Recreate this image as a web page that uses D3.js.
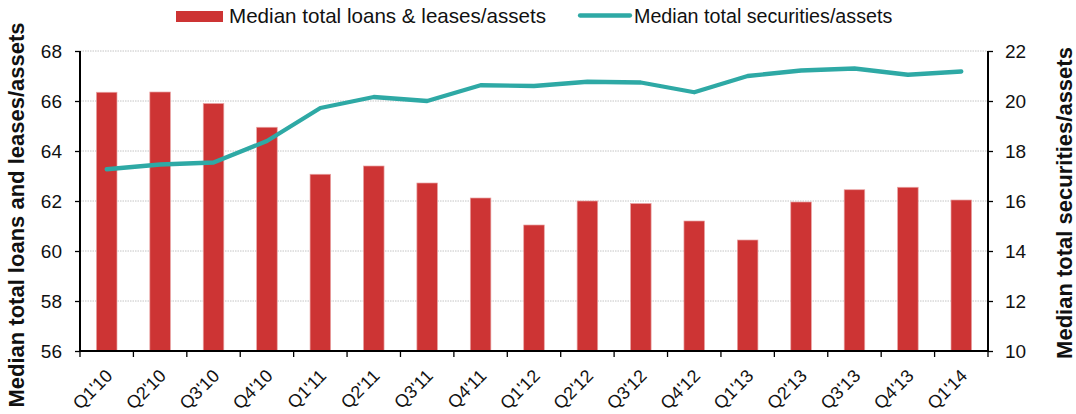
<!DOCTYPE html>
<html>
<head>
<meta charset="utf-8">
<script src="https://cdn.jsdelivr.net/npm/d3@7/dist/d3.min.js"></script>
<style>
  html, body { margin: 0; padding: 0; background: #fff; }
  svg { display: block; font-family: "Liberation Sans", Arial, Helvetica, sans-serif; }
</style>
</head>
<body>
<svg id="chart" width="1076" height="414"></svg>
<script>
const categories = ["Q1'10","Q2'10","Q3'10","Q4'10","Q1'11","Q2'11","Q3'11","Q4'11","Q1'12","Q2'12","Q3'12","Q4'12","Q1'13","Q2'13","Q3'13","Q4'13","Q1'14"];
const loansLeases = [66.35, 66.36, 65.9, 64.95, 63.07, 63.4, 62.72, 62.12, 61.04, 62.0, 61.9, 61.2, 60.44, 61.96, 62.45, 62.55, 62.04];
const securities = [17.27, 17.46, 17.54, 18.4, 19.72, 20.16, 20.0, 20.63, 20.6, 20.77, 20.74, 20.35, 21.0, 21.22, 21.3, 21.05, 21.18];
const leftTicks = [56, 58, 60, 62, 64, 66, 68];
const rightTicks = [10, 12, 14, 16, 18, 20, 22];
const seriesNames = ["Median total loans & leases/assets", "Median total securities/assets"];
const leftTitle = "Median total loans and leases/assets";
const rightTitle = "Median total securities/assets";

const barColor = "#CD3434";
const lineColor = "#2EA9A5";

const svg = d3.select("#chart");
const m = { left: 80, right: 988, top: 51, bottom: 351 };

const x = d3.scaleBand().domain(categories).range([m.left, m.right]).paddingInner(0).paddingOuter(0);
const yL = d3.scaleLinear().domain([56, 68]).range([m.bottom, m.top]);
const yR = d3.scaleLinear().domain([10, 22]).range([m.bottom, m.top]);

// gridlines
svg.append("g").selectAll("line").data(leftTicks.filter(d => d !== 56)).join("line")
  .attr("x1", m.left).attr("x2", m.right)
  .attr("y1", d => yL(d)).attr("y2", d => yL(d))
  .attr("stroke", "#c4c4c4").attr("stroke-width", 1).attr("stroke-dasharray", "1.5,1");

// bars
const bw = x.bandwidth() * 0.385;
svg.append("g").selectAll("rect").data(categories).join("rect")
  .attr("x", (d) => x(d) + x.bandwidth() / 2 - bw / 2)
  .attr("width", bw)
  .attr("y", (d, i) => yL(loansLeases[i]))
  .attr("height", (d, i) => yL(56) - yL(loansLeases[i]))
  .attr("fill", barColor)
  .attr("stroke", "#e9a3a3").attr("stroke-width", 0.7);

// line
const line = d3.line()
  .x((d, i) => x(categories[i]) + x.bandwidth() / 2)
  .y(d => yR(d));
svg.append("path").datum(securities)
  .attr("d", line)
  .attr("fill", "none").attr("stroke", lineColor).attr("stroke-width", 4.3)
  .attr("stroke-linejoin", "round").attr("stroke-linecap", "round");

// left axis
const gL = svg.append("g").attr("transform", `translate(${m.left},0)`)
  .call(d3.axisLeft(yL).tickValues(leftTicks).tickSize(5).tickPadding(13).tickFormat(d3.format("d")));
// right axis
const gR = svg.append("g").attr("transform", `translate(${m.right},0)`)
  .call(d3.axisRight(yR).tickValues(rightTicks).tickSize(5).tickPadding(12).tickFormat(d3.format("d")));
[gL, gR].forEach(g => {
  g.select(".domain").attr("stroke", "#000").attr("stroke-width", 2).attr("d", `M0,${m.top}V${m.bottom}`);
  g.selectAll(".tick line").attr("stroke", "#000").attr("stroke-width", 1.3);
  g.selectAll(".tick text").attr("font-size", 19).attr("fill", "#111").attr("font-family", "Liberation Sans, Arial, sans-serif");
});

// x axis
const gX = svg.append("g").attr("transform", `translate(0,${m.bottom})`);
gX.append("line").attr("x1", m.left).attr("x2", m.right).attr("y1", 0).attr("y2", 0)
  .attr("stroke", "#000").attr("stroke-width", 2);
const bounds = categories.map(c => x(c)).concat([m.right]);
gX.selectAll("line.tk").data(bounds).join("line").attr("class", "tk")
  .attr("x1", d => d).attr("x2", d => d).attr("y1", 0).attr("y2", 6)
  .attr("stroke", "#000").attr("stroke-width", 1.3);
gX.selectAll("text").data(categories).join("text")
  .attr("transform", d => `translate(${x(d) + x.bandwidth() / 2 + 7},${26}) rotate(-45)`)
  .attr("text-anchor", "end")
  .attr("font-size", 18).attr("fill", "#111")
  .text(d => d);

// axis titles
svg.append("text")
  .attr("transform", `translate(24,215) rotate(-90)`)
  .attr("text-anchor", "middle").attr("font-weight", "bold").attr("font-size", 22).attr("fill", "#111")
  .text(leftTitle);
svg.append("text")
  .attr("transform", `translate(1072,203) rotate(-90)`)
  .attr("text-anchor", "middle").attr("font-weight", "bold").attr("font-size", 22).attr("fill", "#111")
  .text(rightTitle);

// legend
const lg = svg.append("g");
lg.append("rect").attr("x", 176).attr("y", 11).attr("width", 47).attr("height", 11).attr("fill", barColor);
lg.append("text").attr("x", 229).attr("y", 23).attr("font-size", 20.6).attr("fill", "#111").text(seriesNames[0]);
lg.append("line").attr("x1", 580).attr("x2", 630).attr("y1", 15.5).attr("y2", 15.5)
  .attr("stroke", lineColor).attr("stroke-width", 4.3).attr("stroke-linecap", "round");
lg.append("text").attr("x", 634).attr("y", 23).attr("font-size", 19.7).attr("fill", "#111").text(seriesNames[1]);
</script>
</body>
</html>
